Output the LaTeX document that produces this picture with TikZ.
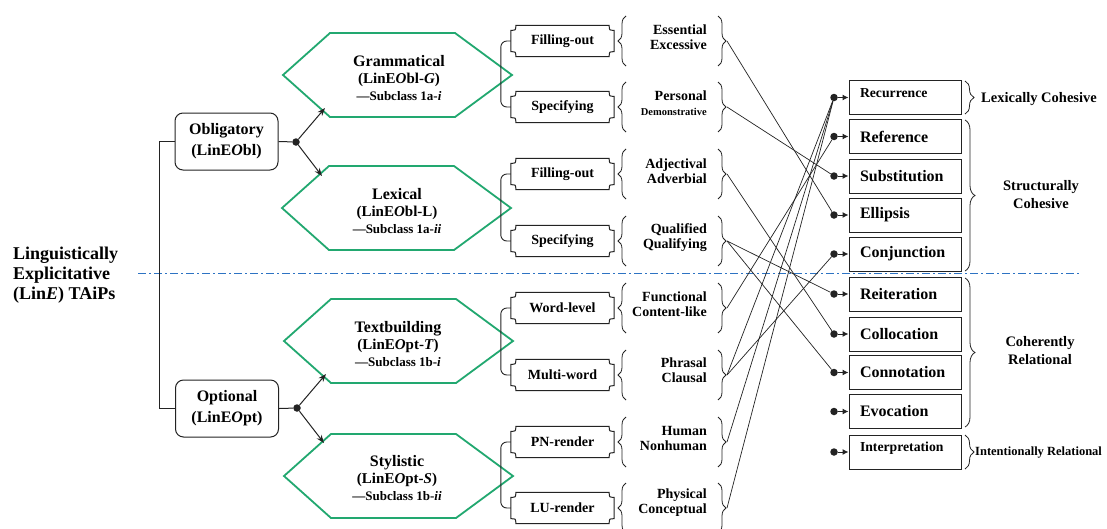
\documentclass[tikz,border=0pt]{standalone}
\usepackage{fontspec}
\setmainfont{Liberation Serif}
\usetikzlibrary{arrows.meta,decorations.pathreplacing,calc}

\definecolor{hexgreen}{RGB}{34,168,112}
\definecolor{splitblue}{RGB}{45,115,195}
\definecolor{ink}{RGB}{35,35,35}

\newcommand\sz[2]{\fontsize{#1pt}{#2pt}\selectfont\bfseries}

% plaque-style frame (concave corners) around a named node
\newcommand\plaqueframe[1]{%
  \draw[ink, line width=1pt] let \p1=(#1.north west), \p2=(#1.south east) in
    (\x1+5pt,\y1) -- (\x2-5pt,\y1) .. controls (\x2-5pt,\y1-5pt) .. (\x2,\y1-5pt)
    -- (\x2,\y2+5pt) .. controls (\x2-5pt,\y2+5pt) .. (\x2-5pt,\y2)
    -- (\x1+5pt,\y2) .. controls (\x1+5pt,\y2+5pt) .. (\x1,\y2+5pt)
    -- (\x1,\y1-5pt) .. controls (\x1+5pt,\y1-5pt) .. (\x1+5pt,\y1) -- cycle;}

% elongated hexagon, given its left corner
\newcommand\hexframe[2]{%
  \draw[hexframe] (#1,#2) -- ++(47,-42) -- ++(125,0) -- ++(57,42)
    -- ++(-57,42) -- ++(-125,0) -- cycle;}

\begin{document}
\begin{tikzpicture}[x=1pt,y=-1pt,
  rootbox/.style={draw=ink, line width=1pt, rounded corners=8pt, minimum width=103pt,
    minimum height=57pt, inner sep=0pt, align=center, font=\sz{16}{21}},
  hexlabel/.style={align=center, inner sep=0pt, font=\sz{15}{17}},
  hexframe/.style={draw=hexgreen, line width=1.8pt, line join=miter},
  plaquebox/.style={minimum width=103pt, minimum height=31pt, inner sep=0pt, font=\sz{14}{16}},
  srctext/.style={anchor=east, align=right, inner sep=0pt, font=\sz{14}{15}},
  tbox/.style={draw=ink, line width=1pt, minimum width=112pt, minimum height=34pt,
    text width=90pt, inner xsep=11pt, inner ysep=0pt, align=left, font=\sz{16}{18}},
  dotn/.style={circle, fill=ink, inner sep=0pt, minimum size=7.5pt},
  junction/.style={circle, fill=ink, inner sep=0pt, minimum size=7.5pt},
  link/.style={ink, line width=0.7pt},
  curly/.style={decorate, decoration={brace, amplitude=#1}, ink, line width=0.8pt},
  branch/.style={ink, line width=1pt, -{Stealth[length=8pt, width=6pt]}},
  tip/.style={ink, line width=1pt, -{Latex[length=6pt, width=6pt]}},
  groupname/.style={align=center, inner sep=0pt, font=\sz{14.5}{18}}
]
\fill[white] (0,0) rectangle (1107,528);
\useasboundingbox (0,0) rectangle (1107,528);

% dash-dot separator between obligatory and optional
\coordinate (split-l) at (138,273);
\coordinate (split-r) at (1080,273);
\draw[splitblue, line width=0.9pt, dash pattern=on 8pt off 3pt on 2pt off 3pt] (split-l) -- (split-r);

% root and first split
\node[anchor=west, align=left, inner sep=0pt, font=\sz{18}{20}] (root) at (13,275)
  {Linguistically\\Explicitative\\(Lin\textit{E}) TAiPs};
\node[rootbox] (obl) at (226.5,141.5) {Obligatory\\(LinE\textit{O}bl)};
\node[rootbox] (opt) at (227,408.5) {Optional\\(LinE\textit{O}pt)};
\draw[ink, line width=1pt] (obl.west) -- ++(-15,0) |- (opt.west);

\node[junction] (oblj) at (296,142) {};
\node[junction] (optj) at (297,408) {};
\draw[ink, line width=1pt] (obl.east) -- (oblj);
\draw[ink, line width=1pt] (opt.east) -- (optj);

% subclasses
\hexframe{283}{75}
\hexframe{282}{208}
\hexframe{284}{341}
\hexframe{284}{476}
\node[hexlabel] (gram) at (399,78)
  {{\fontsize{16pt}{17pt}\selectfont Grammatical}\\(LinE\textit{O}bl-\textit{G})\\{\fontsize{13pt}{15pt}\selectfont —Subclass 1a-\textit{i}}};
\node[hexlabel] (lex) at (397,211)
  {{\fontsize{16pt}{17pt}\selectfont Lexical}\\(LinE\textit{O}bl-L)\\{\fontsize{13pt}{15pt}\selectfont —Subclass 1a-\textit{ii}}};
\node[hexlabel] (textb) at (398,344)
  {{\fontsize{16pt}{17pt}\selectfont Textbuilding}\\(LinE\textit{O}pt-\textit{T})\\{\fontsize{13pt}{15pt}\selectfont —Subclass 1b-\textit{i}}};
\node[hexlabel] (styl) at (397,478)
  {{\fontsize{16pt}{17pt}\selectfont Stylistic}\\(LinE\textit{O}pt-\textit{S})\\{\fontsize{13pt}{15pt}\selectfont —Subclass 1b-\textit{ii}}};

\coordinate (gram-in) at (325,108);
\coordinate (lex-in) at (322,176);
\coordinate (textb-in) at (326,374);
\coordinate (styl-in) at (324,443);
\draw[branch] (oblj) -- (gram-in);
\draw[branch] (oblj) -- (lex-in);
\draw[branch] (optj) -- (textb-in);
\draw[branch] (optj) -- (styl-in);

% types
\node[plaquebox] (p1) at (562.5,41) {Filling-out};
\node[plaquebox] (p2) at (562.5,107) {Specifying};
\node[plaquebox] (p3) at (562.5,174) {Filling-out};
\node[plaquebox] (p4) at (562.5,241) {Specifying};
\node[plaquebox] (p5) at (562.5,308) {Word-level};
\node[plaquebox] (p6) at (562.5,375) {Multi-word};
\node[plaquebox] (p7) at (562.5,442) {PN-render};
\node[plaquebox] (p8) at (562.5,508) {LU-render};
\foreach \pname in {p1,p2,p3,p4,p5,p6,p7,p8} {\plaqueframe{\pname}}
\foreach \pa/\pb in {p1/p2,p3/p4,p5/p6,p7/p8}
  \draw[ink, line width=0.9pt, rounded corners=6pt] (\pa.west) -- ++(-10,0) |- (\pb.west);

% subtypes
\node[srctext] (e1) at (707,37) {Essential\\Excessive};
\node[srctext] (e2) at (707,103) {Personal\\{\fontsize{10.5pt}{13pt}\selectfont Demonstrative}};
\node[srctext] (e3) at (707,171) {Adjectival\\Adverbial};
\node[srctext] (e4) at (707,237.5) {Qualified\\Qualifying};
\node[srctext] (e5) at (707,304.5) {Functional\\Content-like};
\node[srctext] (e6) at (707,370.5) {Phrasal\\Clausal};
\node[srctext] (e7) at (707,438) {Human\\Nonhuman};
\node[srctext] (e8) at (707,503) {Physical\\Conceptual};

\foreach \cy [count=\i] in {41,107,174,241,308,375,442,508} {
  \draw[curly=8pt] (626,\cy+25) -- (626,\cy-25);
  \draw[curly=8pt] (718,\cy-25) -- (718,\cy+25);
  \coordinate (s\i) at (727,\cy);
}

% textual relations
\node[tbox] (t1) at (905,97.5) {\raisebox{4pt}[\height][\depth]{\fontsize{13.7pt}{15pt}\selectfont Recurrence}};
\node[tbox] (t2) at (905,136.5) {Reference};
\node[tbox] (t3) at (905,176) {Substitution};
\node[tbox] (t4) at (905,215) {Ellipsis};
\node[tbox] (t5) at (905,254) {Conjunction};
\node[tbox] (t6) at (905,294) {Reiteration};
\node[tbox] (t7) at (905,334) {Collocation};
\node[tbox] (t8) at (905,372.5) {Connotation};
\node[tbox] (t9) at (905,411.5) {Evocation};
\node[tbox] (t10) at (905,452) {\raisebox{4pt}[\height][\depth]{\fontsize{13.7pt}{15pt}\selectfont Interpretation}};

\foreach \ty [count=\i] in {97.5,136.5,176,215,254,294,334,372.5,411.5,452} {
  \node[dotn] (d\i) at (834,\ty) {};
  \draw[tip] (d\i) -- (t\i.west);
}

% mapping of subtypes to relations
\draw[link] (s1) -- (d4);
\draw[link] (s2) -- (d3);
\draw[link] (s3) -- (d7);
\draw[link] (s4) -- (d6);
\draw[link] (s4) -- (d8);
\draw[link] (s5) -- (d2);
\draw[link] (s6) -- (d1);
\draw[link] (s6) -- (d5);
\draw[link] (s7) -- (d1);
\draw[link] (s8) -- (d1);

% groups of relations
\draw[curly=9pt] (965,81) -- (965,114);
\draw[curly=10pt] (965,120) -- (965,271);
\draw[curly=10pt] (965,278) -- (965,427);
\draw[curly=9pt] (965,435) -- (965,469);
\node[anchor=west, inner sep=0pt, font=\sz{14.5}{18}] (g1) at (981,99) {Lexically Cohesive};
\node[groupname] (g2) at (1041,195) {Structurally\\Cohesive};
\node[groupname] (g3) at (1040,351) {Coherently\\Relational};
\node[anchor=west, inner sep=0pt, font=\sz{12.5}{14}] (g4) at (975,453) {Intentionally Relational};
\end{tikzpicture}
\end{document}
